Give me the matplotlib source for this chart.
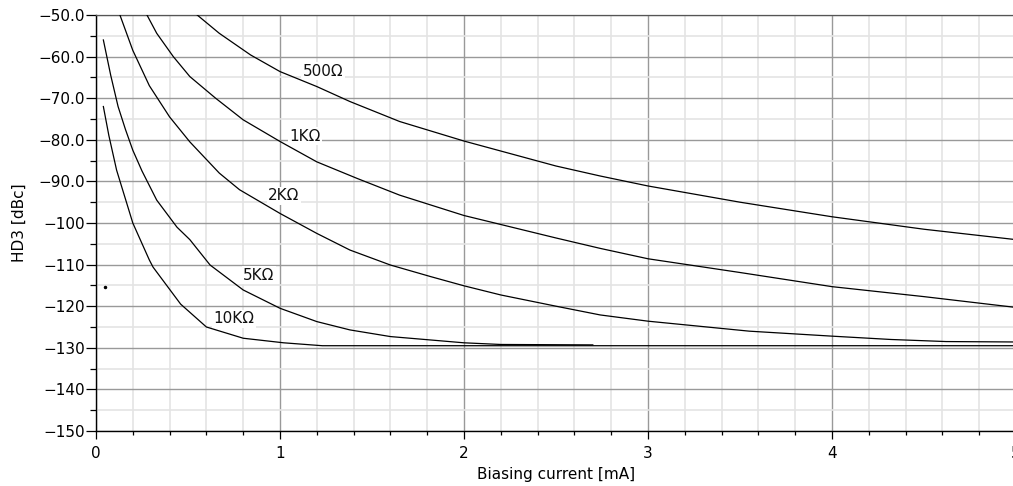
import matplotlib
matplotlib.use("Agg")
import matplotlib.pyplot as plt
from matplotlib.ticker import MultipleLocator

# ── data ──────────────────────────────────────────────────────────────────────
x_500 = [0.55, 0.67, 0.84, 1.0, 1.2, 1.38, 1.65, 2.0, 2.5, 2.74, 3.0, 3.5, 4.0, 4.5, 5.0]
y_500 = [-50, -54.4, -59.6, -63.6, -67.2, -70.8, -75.6, -80.3, -86.3, -88.7, -91.1, -95.0, -98.5, -101.5, -104.0]

x_1k = [0.277, 0.33, 0.42, 0.51, 0.65, 0.8, 1.0, 1.2, 1.42, 1.65, 2.0, 2.5, 2.74, 3.0, 3.5, 4.0, 4.5, 5.0]
y_1k = [-50, -54.4, -60, -64.8, -70, -75.2, -80.4, -85.3, -89.3, -93.3, -98.2, -103.6, -106.1, -108.6, -111.9, -115.3, -117.7, -120.3]

x_2k = [0.13, 0.2, 0.29, 0.4, 0.51, 0.67, 0.78, 1.0, 1.2, 1.38, 1.6, 1.82, 2.0, 2.2, 2.5, 2.74, 3.0, 3.55, 4.0, 4.32, 4.62, 5.0]
y_2k = [-50, -58.5, -67, -74.5, -80.5, -88, -92, -97.7, -102.5, -106.5, -110.1, -112.9, -115.1, -117.3, -120, -122.1, -123.6, -126.0, -127.2, -128.0, -128.5, -128.6]

x_5k = [0.04, 0.08, 0.12, 0.16, 0.2, 0.25, 0.33, 0.44, 0.51, 0.62, 0.8, 1.0, 1.2, 1.38, 1.6, 2.0, 2.2, 2.7]
y_5k = [-56, -64.5, -72, -77.5, -82.5, -87.5, -94.5, -101, -104, -110.1, -116.1, -120.5, -123.7, -125.7, -127.3, -128.8, -129.2, -129.3]

x_10k = [0.04, 0.07, 0.112, 0.2, 0.29, 0.31, 0.46, 0.6, 0.8, 1.02, 1.23, 1.5, 5.0]
y_10k = [-72, -79, -87.3, -100, -108.9, -110.6, -119.5, -125, -127.7, -128.8, -129.5, -129.5, -129.5]

stray_x = [0.05]
stray_y = [-115.3]

labels = ["500Ω", "1KΩ", "2KΩ", "5KΩ", "10KΩ"]
label_x = [1.234, 1.136, 1.02, 0.886, 0.75]
label_y = [-63.5, -79.1, -93.5, -112.5, -123.0]

xticks = [0, 1, 2, 3, 4, 5]
yticks = [-50, -60, -70, -80, -90, -100, -110, -120, -130, -140, -150]
ytick_labels = ["\u221250.0", "\u221260.0", "\u221270.0", "\u221280.0", "\u221290.0",
                "\u2212100", "\u2212110", "\u2212120", "\u2212130", "\u2212140", "\u2212150"]

# ── figure ────────────────────────────────────────────────────────────────────
FS = 11
fig = plt.figure(figsize=(10.13, 4.86), dpi=100)
ax = fig.add_axes([96 / 1013, 55 / 486, 920 / 1013, 416 / 486])

for xs, ys in [(x_500, y_500), (x_1k, y_1k), (x_2k, y_2k), (x_5k, y_5k), (x_10k, y_10k)]:
    ax.plot(xs, ys, color="black", linewidth=0.9, zorder=3)
ax.plot(stray_x, stray_y, "o", color="black", markersize=1.5, zorder=3)

for t, lx, ly in zip(labels, label_x, label_y):
    ax.text(lx, ly, t, ha="center", va="center", fontsize=FS, color="#111111", zorder=2,
            bbox=dict(facecolor="white", edgecolor="none", pad=1.0))

ax.set_xlim(0, 5)
ax.set_ylim(-150, -50)
ax.set_xticks(xticks)
ax.set_xticklabels([str(v) for v in xticks], fontsize=FS)
ax.set_yticks(yticks)
ax.set_yticklabels(ytick_labels, fontsize=FS)
ax.xaxis.set_minor_locator(MultipleLocator(0.2))
ax.yaxis.set_minor_locator(MultipleLocator(5))

ax.set_axisbelow(True)
ax.grid(which="major", color="#999999", linewidth=1.0)
ax.grid(which="minor", color="#e4e4e4", linewidth=1.2)

ax.tick_params(axis="y", which="major", length=7, width=0.9, pad=1)
ax.tick_params(axis="y", which="minor", length=4, width=0.9)
ax.tick_params(axis="x", which="major", length=6, width=0.9, pad=5)
ax.tick_params(axis="x", which="minor", length=3, width=0.9)

for side in ["left", "bottom"]:
    ax.spines[side].set_color("black")
    ax.spines[side].set_linewidth(1.0)
ax.spines["top"].set_color("#555555")
ax.spines["top"].set_linewidth(0.9)
ax.spines["right"].set_visible(False)

ax.set_xlabel("Biasing current [mA]", fontsize=FS, labelpad=4)
ax.set_ylabel("HD3 [dBc]", fontsize=FS, labelpad=8)

fig.savefig("out.png", dpi=100)
